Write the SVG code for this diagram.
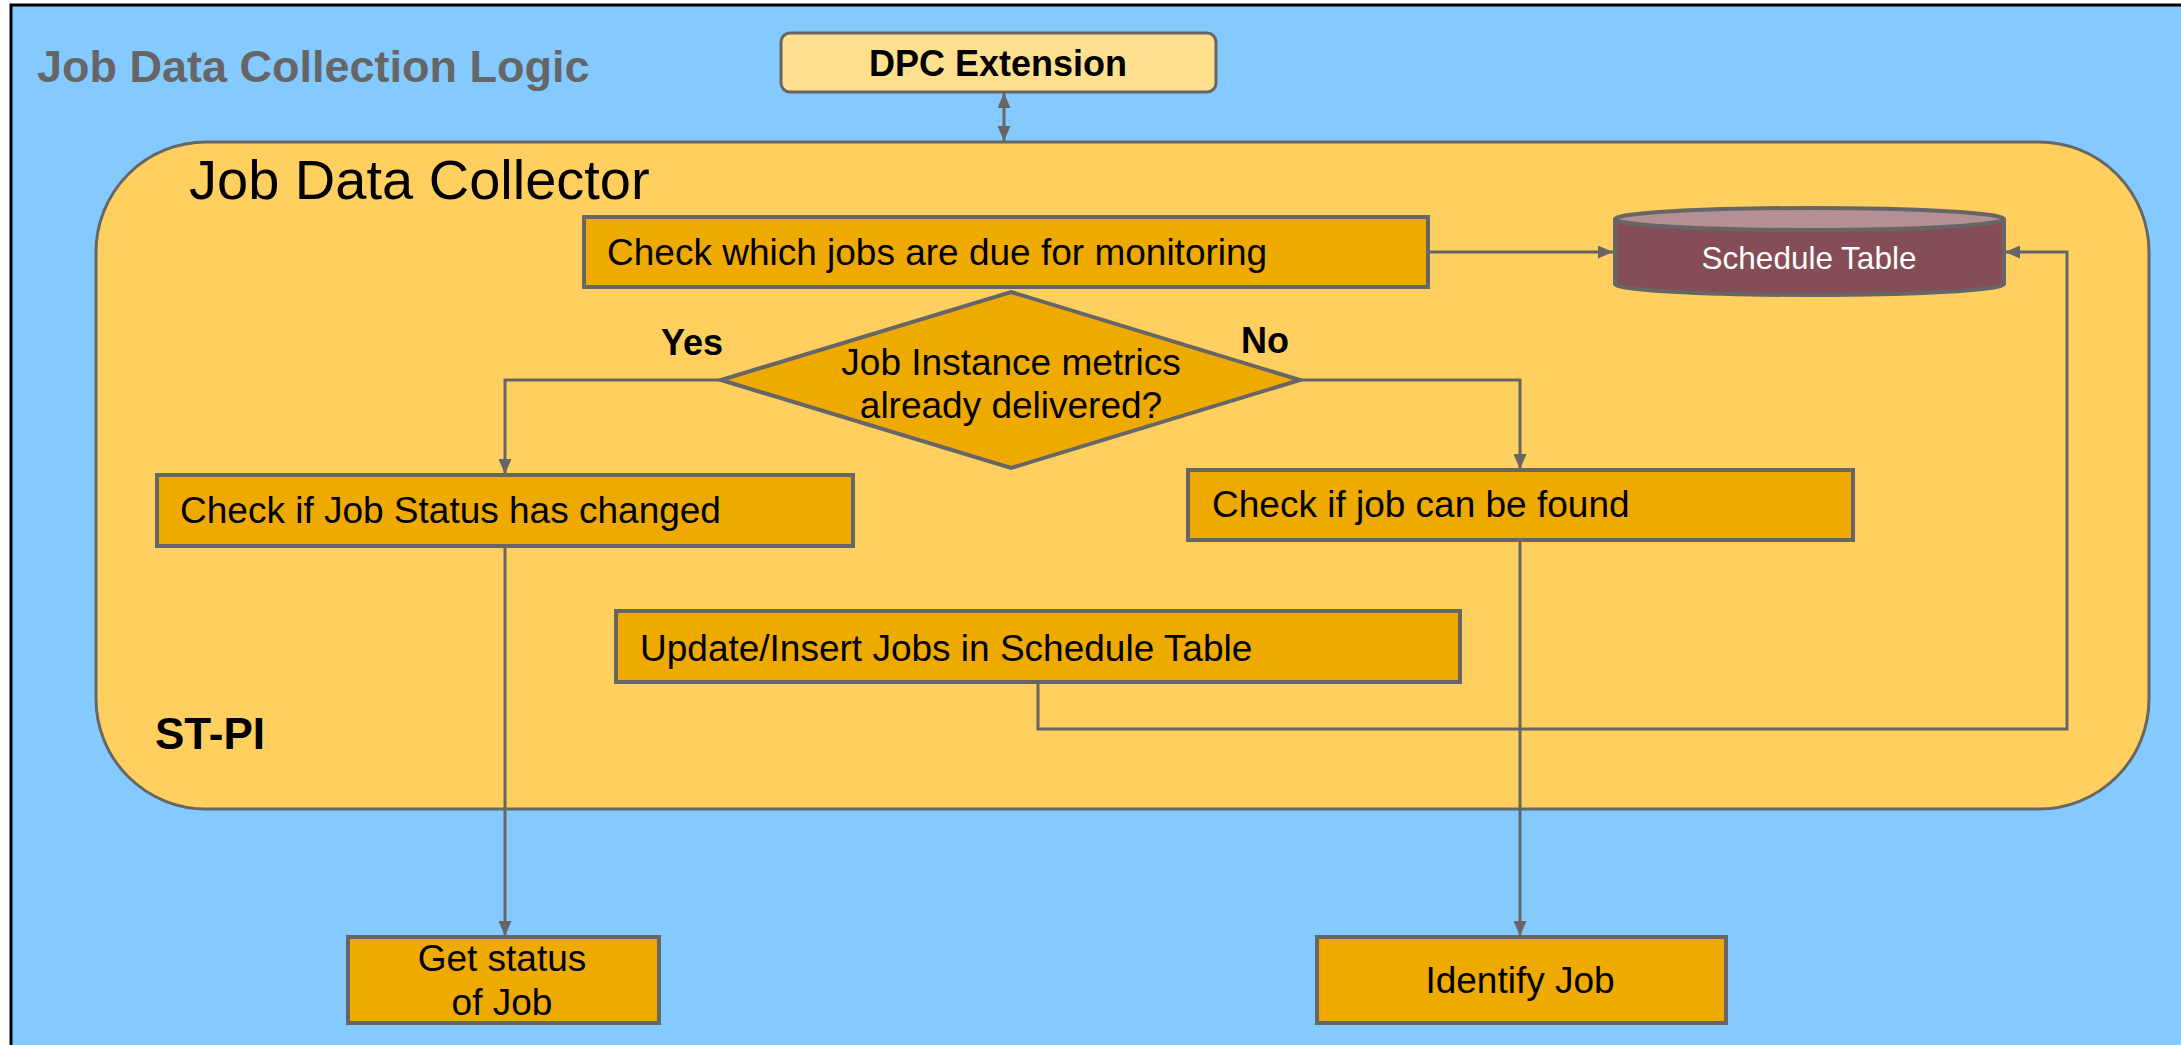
<svg xmlns="http://www.w3.org/2000/svg" width="2181" height="1045" viewBox="0 0 2181 1045">
<style>
.t{font-family:"Liberation Sans",Arial,sans-serif;fill:#000}
.b{font-weight:bold}
.box{fill:#EEAA00;stroke:#666;stroke-width:4}
.c{fill:none;stroke:#666;stroke-width:3}
</style>
<defs>
<marker id="ah" markerUnits="userSpaceOnUse" markerWidth="15" markerHeight="13" refX="15" refY="6.5" orient="auto-start-reverse">
<path d="M0,0 L15,6.5 L0,13 z" fill="#666"/>
</marker>
</defs>
<rect x="0" y="0" width="2181" height="1045" fill="#fff"/>
<rect x="11" y="5" width="2200" height="1100" fill="#85CAFF" stroke="#000" stroke-width="3"/>
<text class="t b" x="37" y="82" font-size="45" fill="#666" style="fill:#666">Job Data Collection Logic</text>
<g id="dpc">
<rect x="781" y="33" width="435" height="59" rx="9" fill="#FFE08F" stroke="#666" stroke-width="3"/>
<text class="t b" x="998" y="76" font-size="36" text-anchor="middle">DPC Extension</text>
</g>
<g id="collector">
<rect x="96" y="142" width="2053" height="667" rx="110" fill="#FFCF5F" stroke="#666" stroke-width="3"/>
<text class="t" x="189" y="199" font-size="56">Job Data Collector</text>
<text class="t b" x="155" y="749" font-size="44">ST-PI</text>
</g>
<g id="checkdue">
<rect class="box" x="584" y="217" width="844" height="70"/>
<text class="t" x="607" y="265" font-size="37">Check which jobs are due for monitoring</text>
</g>
<g id="schedule">
<path d="M1615,219 L1615,284 A194.5,11 0 0 0 2004,284 L2004,219" fill="#854D55" stroke="#666" stroke-width="4"/>
<ellipse cx="1809.5" cy="219" rx="194.5" ry="11" fill="#B59092" stroke="#666" stroke-width="4"/>
<text class="t" x="1809" y="269" font-size="31.5" text-anchor="middle" style="fill:#fff">Schedule Table</text>
</g>
<g id="decision">
<polygon points="1011,292 1300,380 1011,468 721,380" fill="#EEAA00" stroke="#666" stroke-width="4"/>
<text class="t" x="1011" y="375" font-size="37" text-anchor="middle">Job Instance metrics</text>
<text class="t" x="1011" y="418" font-size="37" text-anchor="middle">already delivered?</text>
</g>
<g id="statuschanged">
<rect class="box" x="157" y="475" width="696" height="71"/>
<text class="t" x="180" y="523" font-size="37">Check if Job Status has changed</text>
</g>
<g id="jobfound">
<rect class="box" x="1188" y="470" width="665" height="70"/>
<text class="t" x="1212" y="517" font-size="37">Check if job can be found</text>
</g>
<g id="update">
<rect class="box" x="616" y="611" width="844" height="71"/>
<text class="t" x="640" y="661" font-size="37">Update/Insert Jobs in Schedule Table</text>
</g>
<g id="getstatus">
<rect class="box" x="348" y="937" width="311" height="86"/>
<text class="t" x="502" y="971" font-size="37" text-anchor="middle">Get status</text>
<text class="t" x="502" y="1015" font-size="37" text-anchor="middle">of Job</text>
</g>
<g id="identify">
<rect class="box" x="1317" y="937" width="409" height="86"/>
<text class="t" x="1520" y="993" font-size="37" text-anchor="middle">Identify Job</text>
</g>
<g id="connectors">
<line class="c" x1="1004" y1="93" x2="1004" y2="141" marker-start="url(#ah)" marker-end="url(#ah)"/>
<line class="c" x1="1428" y1="252" x2="1613" y2="252" marker-end="url(#ah)"/>
<polyline class="c" points="721,380 505,380 505,474" marker-end="url(#ah)"/>
<polyline class="c" points="1300,380 1520,380 1520,469" marker-end="url(#ah)"/>
<line class="c" x1="505" y1="546" x2="505" y2="936" marker-end="url(#ah)"/>
<line class="c" x1="1520" y1="540" x2="1520" y2="936" marker-end="url(#ah)"/>
<polyline class="c" points="1038,682 1038,729 2067,729 2067,252 2005,252" marker-end="url(#ah)"/>
<text class="t b" x="692" y="355" font-size="36" text-anchor="middle">Yes</text>
<text class="t b" x="1265" y="353" font-size="36" text-anchor="middle">No</text>
</g>
</svg>
